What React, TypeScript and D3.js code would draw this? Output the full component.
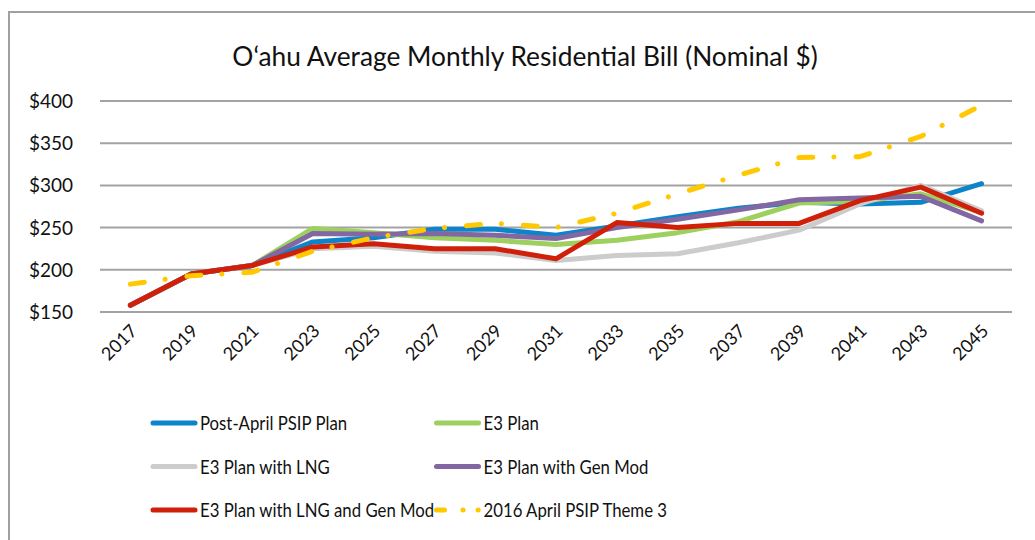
import * as d3 from "d3";
import { useEffect, useRef } from "react";

const years = ["2017", "2019", "2021", "2023", "2025", "2027", "2029", "2031", "2033", "2035", "2037", "2039", "2041", "2043", "2045"];

const postApril = [158, 195, 205, 233, 238, 248, 248, 241, 252, 263, 273, 280, 278, 280, 302];
const e3Plan = [158, 195, 205, 249, 244, 238, 235, 230, 235, 244, 257, 279, 281, 290, 268];
const e3Lng = [158, 195, 205, 225, 228, 222, 220, 211, 217, 219, 232, 247, 278, 300, 270];
const e3GenMod = [158, 195, 205, 243, 242, 243, 241, 237, 250, 260, 271, 283, 285, 287, 258];
const e3LngGenMod = [158, 195, 205, 227, 231, 225, 225, 213, 256, 250, 255, 255, 282, 298, 267];
const theme3 = [183, 193, 197, 222, 238, 249, 255, 250, 267, 290, 312, 333, 334, 358, 395];

const yTicks = [150, 200, 250, 300, 350, 400];

const series = [
  { name: "Post-April PSIP Plan", values: postApril, color: "#0b84c9", dash: null },
  { name: "E3 Plan", values: e3Plan, color: "#9dd05f", dash: null },
  { name: "E3 Plan with LNG", values: e3Lng, color: "#cccccc", dash: null },
  { name: "E3 Plan with Gen Mod", values: e3GenMod, color: "#8267a3", dash: null },
  { name: "E3 Plan with LNG and Gen Mod", values: e3LngGenMod, color: "#d0200a", dash: null },
  { name: "2016 April PSIP Theme 3", values: theme3, color: "#ffc800", dash: "14 21 0.1 22" },
];

const W = 1035;
const H = 540;
const font = "Lato, 'Open Sans', sans-serif";

function LineChart() {
  const ref = useRef<SVGSVGElement>(null);

  useEffect(() => {
    const svg = d3.select(ref.current);
    svg.selectAll("*").remove();

    const x = d3.scaleBand<string>().domain(years).range([100, 1012]).padding(0);
    const cx = (d: string) => (x(d) as number) + x.bandwidth() / 2;
    const y = d3.scaleLinear().domain([150, 400]).range([312, 101]);

    // frame
    svg.append("rect")
      .attr("x", 9).attr("y", 12).attr("width", W + 20).attr("height", H + 20)
      .attr("fill", "white").attr("stroke", "#a0a0a0").attr("stroke-width", 2);

    svg.append("text")
      .attr("x", 525).attr("y", 66)
      .attr("text-anchor", "middle")
      .attr("font-family", font).attr("font-size", 26.3)
      .attr("fill", "#111")
      .text("O\u2018ahu Average Monthly Residential Bill (Nominal $)");

    // grid + y labels
    const grid = svg.append("g");
    yTicks.forEach((t) => {
      grid.append("line")
        .attr("x1", 100).attr("x2", 1012)
        .attr("y1", y(t)).attr("y2", y(t))
        .attr("stroke", "#a3a3a3").attr("stroke-width", 2);
      grid.append("text")
        .attr("x", 73).attr("y", y(t) + 7)
        .attr("text-anchor", "end")
        .attr("font-family", font).attr("font-size", 19)
        .attr("fill", "#111")
        .text(`$${t}`);
    });

    // x labels
    years.forEach((yr) => {
      svg.append("text")
        .attr("transform", `translate(${cx(yr) + 8},${332}) rotate(-45)`)
        .attr("text-anchor", "end")
        .attr("font-family", font).attr("font-size", 18)
        .attr("fill", "#111")
        .text(yr);
    });

    const line = d3.line<number>()
      .x((_, i) => cx(years[i]))
      .y((d) => y(d));

    series.forEach((s) => {
      const p = svg.append("path")
        .datum(s.values)
        .attr("d", line)
        .attr("fill", "none")
        .attr("stroke", s.color)
        .attr("stroke-width", 5)
        .attr("stroke-linejoin", "round")
        .attr("stroke-linecap", "round");
      if (s.dash) p.attr("stroke-dasharray", s.dash);
    });

    // legend
    const legend = svg.append("g");
    series.forEach((s, i) => {
      const col = i % 2;
      const row = Math.floor(i / 2);
      const lx = col === 0 ? 153 : 436.5;
      const ly = 423 + row * 43.5;
      const seg = legend.append("line")
        .attr("x1", lx).attr("x2", lx + 42)
        .attr("y1", ly).attr("y2", ly)
        .attr("stroke", s.color)
        .attr("stroke-width", 5)
        .attr("stroke-linecap", "round");
      if (s.dash) seg.attr("stroke-dasharray", "8 18.5 0.1 15 0.1 10");
      legend.append("text")
        .attr("transform", `translate(${lx + 47},${ly + 7}) scale(0.86,1)`)
        .attr("font-family", font).attr("font-size", 19.5)
        .attr("fill", "#111")
        .text(s.name);
    });
  });

  return <svg ref={ref} width={W} height={H} style={{ display: "block" }} />;
}

export default function App() {
  return (
    <div style={{ position: "absolute", left: 0, top: 0, width: W, height: H, background: "white" }}>
      <LineChart />
    </div>
  );
}
